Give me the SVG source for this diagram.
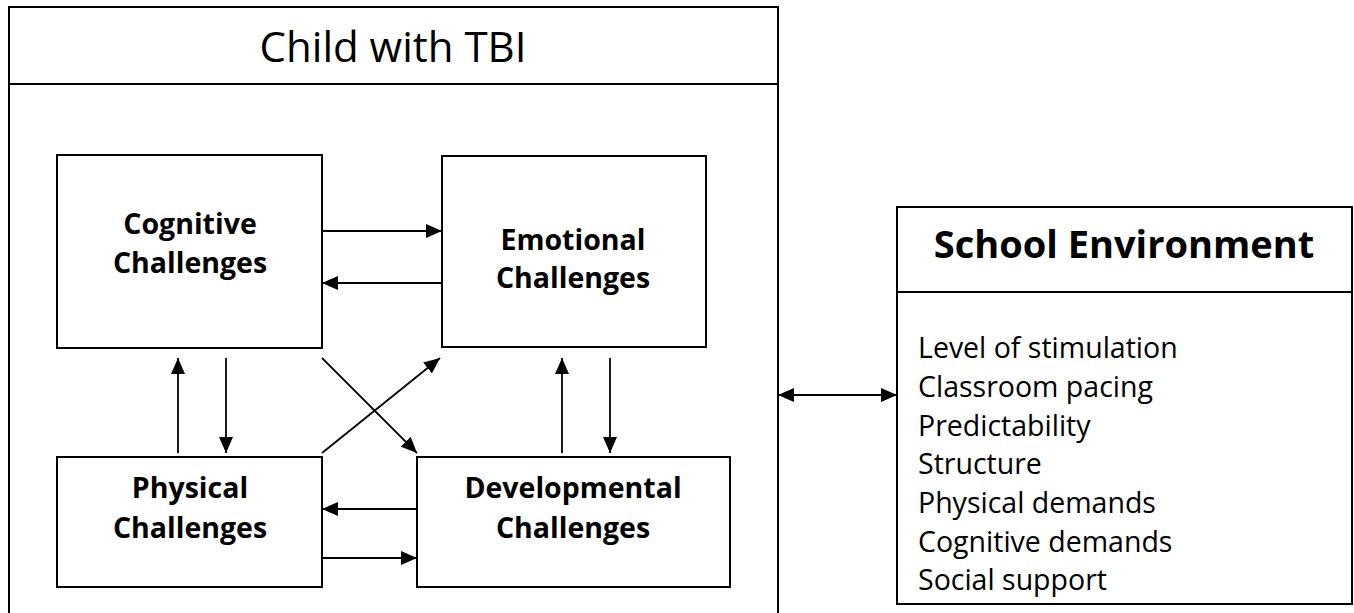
<svg xmlns="http://www.w3.org/2000/svg" width="1354" height="613" viewBox="0 0 1354 613">
  <style>
    .box { fill: #fff; stroke: #000; stroke-width: 2; }
    .sep { stroke: #000; stroke-width: 2; fill: none; }
    .link { stroke: #000; stroke-width: 1.8; fill: none; marker-end: url(#head); }
    .both { marker-start: url(#head); }
    .title { font-family: "Open Sans", "Liberation Sans", sans-serif; font-size: 42px; fill: #000; text-anchor: middle; }
    .label { font-family: "Open Sans", "Liberation Sans", sans-serif; font-size: 28.5px; font-weight: bold; fill: #000; text-anchor: middle; }
    .env-title { font-family: "Open Sans", "Liberation Sans", sans-serif; font-size: 38px; font-weight: bold; fill: #000; text-anchor: middle; }
    .item { font-family: "Open Sans", "Liberation Sans", sans-serif; font-size: 28.5px; fill: #000; }
  </style>
  <defs>
    <marker id="head" markerUnits="userSpaceOnUse" markerWidth="16" markerHeight="14" refX="16" refY="7" orient="auto-start-reverse">
      <path d="M0,0 L16,7 L0,14 Z" fill="#000"/>
    </marker>
  </defs>

  <rect width="1354" height="613" fill="#fff"/>

  <!-- Outer container: the child -->
  <g id="child-with-tbi">
    <rect class="box" x="9" y="7" width="769" height="620"/>
    <line class="sep" x1="9" y1="84" x2="778" y2="84"/>
    <text class="title" x="393" y="62">Child with TBI</text>
  </g>

  <g id="cognitive">
    <rect class="box" x="57" y="155" width="265" height="193"/>
    <text class="label" x="190" y="234">Cognitive</text>
    <text class="label" x="190" y="273">Challenges</text>
  </g>

  <g id="emotional">
    <rect class="box" x="442" y="156" width="264" height="191"/>
    <text class="label" x="573" y="250">Emotional</text>
    <text class="label" x="573" y="288">Challenges</text>
  </g>

  <g id="physical">
    <rect class="box" x="57" y="457" width="265" height="130"/>
    <text class="label" x="190" y="498">Physical</text>
    <text class="label" x="190" y="538">Challenges</text>
  </g>

  <g id="developmental">
    <rect class="box" x="417" y="457" width="313" height="130"/>
    <text class="label" x="573" y="498">Developmental</text>
    <text class="label" x="573" y="538">Challenges</text>
  </g>

  <g id="school-environment">
    <rect class="box" x="897" y="207" width="455" height="397"/>
    <line class="sep" x1="897" y1="292" x2="1352" y2="292"/>
    <text class="env-title" x="1124" y="258">School Environment</text>
    <text class="item" x="918" y="358">Level of stimulation</text>
    <text class="item" x="918" y="397">Classroom pacing</text>
    <text class="item" x="918" y="435.5">Predictability</text>
    <text class="item" x="918" y="474">Structure</text>
    <text class="item" x="918" y="513">Physical demands</text>
    <text class="item" x="918" y="551.5">Cognitive demands</text>
    <text class="item" x="918" y="590">Social support</text>
  </g>

  <g id="connectors">
    <line class="link" x1="322" y1="231" x2="442" y2="231"/>
    <line class="link" x1="442" y1="283" x2="322" y2="283"/>
    <line class="link" x1="178" y1="453" x2="178" y2="358"/>
    <line class="link" x1="226" y1="358" x2="226" y2="453"/>
    <line class="link" x1="322" y1="358" x2="417" y2="453"/>
    <line class="link" x1="322" y1="453" x2="440" y2="358"/>
    <line class="link" x1="562" y1="453" x2="562" y2="358"/>
    <line class="link" x1="610" y1="358" x2="610" y2="453"/>
    <line class="link" x1="417" y1="509" x2="322" y2="509"/>
    <line class="link" x1="322" y1="558" x2="417" y2="558"/>
    <line class="link both" x1="778" y1="395" x2="897" y2="395"/>
  </g>
</svg>
